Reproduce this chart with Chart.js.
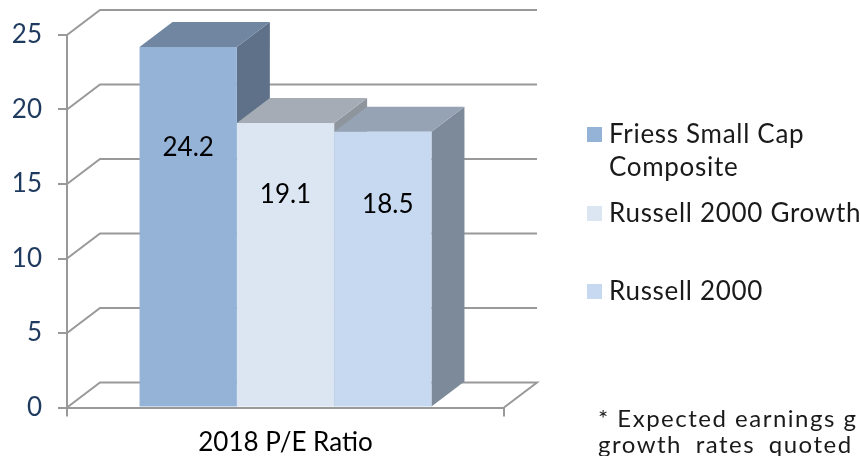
<!DOCTYPE html>
<html>
<head>
<meta charset="utf-8">
<style>html,body{margin:0;padding:0;background:#fff;overflow:hidden}canvas{display:block}</style>
<script src="https://cdn.jsdelivr.net/npm/chart.js@4/dist/chart.umd.min.js"></script>
</head>
<body>
<canvas id="c" width="860" height="456"></canvas>
<script>
const categories = ["2018 P/E Ratio"];
const seriesNames = ["Friess Small Cap Composite", "Russell 2000 Growth", "Russell 2000"];
const friessValues = [24.2];
const growthValues = [19.1];
const russellValues = [18.5];
const yTicks = [0, 5, 10, 15, 20, 25];
const footnoteLines = ["* Expected earnings g", "growth rates quoted"];

const GEO = '"Lato","Open Sans",sans-serif';
const DEPTH_X = 33, DEPTH_Y = -25;
const GRID = '#999999';
const faces = [
  {front:'#95B3D7', top:'#7086A1', side:'#5E7188'},
  {front:'#DCE6F2', top:'#A5ACB5', side:'#8F959D'},
  {front:'#C6D9F1', top:'#95A3B5', side:'#7D8A99'}
];

function poly(ctx, pts, fill){
  ctx.beginPath();
  pts.forEach((p,i)=> i ? ctx.lineTo(p[0],p[1]) : ctx.moveTo(p[0],p[1]));
  ctx.closePath();
  ctx.fillStyle = fill;
  ctx.fill();
}

const box3d = {
  id:'box3d',
  beforeDatasetsDraw(chart){
    const {ctx, chartArea:a, scales:{y}} = chart;
    ctx.save();
    ctx.strokeStyle = GRID; ctx.lineWidth = 2; ctx.lineJoin='miter';
    yTicks.forEach(v=>{
      const py = y.getPixelForValue(v);
      ctx.beginPath();
      ctx.moveTo(a.left, py);
      ctx.lineTo(a.left+DEPTH_X, py+DEPTH_Y);
      ctx.lineTo(a.right+DEPTH_X, py+DEPTH_Y);
      if(v===0){ ctx.lineTo(a.right, py); }
      ctx.stroke();
    });
    chart.data.datasets.forEach((ds,i)=>{
      const el = chart.getDatasetMeta(i).data[0];
      const l = el.x-el.width/2, r = el.x+el.width/2, t = el.y, b = el.base;
      poly(ctx, [[r,t],[r+DEPTH_X,t+DEPTH_Y],[r+DEPTH_X,b+DEPTH_Y],[r,b]], faces[i].side);
      poly(ctx, [[l,t],[l+DEPTH_X,t+DEPTH_Y],[r+DEPTH_X,t+DEPTH_Y],[r,t]], faces[i].top);
    });
    ctx.restore();
  },
  afterDatasetsDraw(chart, args, opts){
    const {ctx} = chart;
    ctx.save();
    ctx.fillStyle = '#000';
    ctx.font = '26px '+GEO;
    ctx.textAlign='center'; ctx.textBaseline='middle';
    chart.data.datasets.forEach((ds,i)=>{
      const el = chart.getDatasetMeta(i).data[0];
      ctx.fillText(ds.data[0].toFixed(1), el.x+opts.dx[i], el.y+opts.dy[i]);
    });
    ctx.restore();
  }
};

const sideLegend = {
  id:'sideLegend',
  afterDraw(chart, args, opts){
    const {ctx} = chart;
    ctx.save();
    ctx.textAlign='left'; ctx.textBaseline='alphabetic';
    ctx.font = opts.font;
    ctx.letterSpacing = '0.7px';
    chart.data.datasets.forEach((ds,i)=>{
      const y = opts.rows[i];
      ctx.fillStyle = ds.backgroundColor;
      ctx.fillRect(opts.boxX, y-opts.boxOff, 15, 15);
      ctx.fillStyle = '#1a1a1a';
      const lines = i===0 ? [ds.label.replace(' Composite',''), 'Composite'] : [ds.label];
      lines.forEach((t,j)=>ctx.fillText(t, opts.textX, y+j*opts.lineH));
    });
    ctx.font = opts.noteFont;
    ctx.letterSpacing = '1.5px';
    footnoteLines.forEach((t,j)=>{
      ctx.wordSpacing = j ? '6px' : '0px';
      ctx.fillText(t, opts.noteX, opts.noteY+j*opts.noteH);
    });
    ctx.restore();
  }
};

new Chart(document.getElementById('c'), {
  type:'bar',
  data:{
    labels:categories,
    datasets:[
      {label:seriesNames[0], data:friessValues, backgroundColor:faces[0].front},
      {label:seriesNames[1], data:growthValues, backgroundColor:faces[1].front},
      {label:seriesNames[2], data:russellValues, backgroundColor:faces[2].front}
    ]
  },
  options:{
    responsive:false, animation:false,
    layout:{padding:{left:0,right:356,top:35,bottom:0}},
    datasets:{bar:{categoryPercentage:0.668, barPercentage:1, borderWidth:0}},
    plugins:{
      legend:{display:false}, tooltip:{enabled:false}, title:{display:false},
      box3d:{dx:[0,0,5], dy:[101,72,73]},
      sideLegend:{font:'26px '+GEO, boxX:587, boxOff:16, textX:609, rows:[143,222,300], lineH:33,
        noteFont:'24px '+GEO, noteX:598, noteY:427, noteH:26}
    },
    scales:{
      x:{
        afterFit(s){ s.height = 48.5; },
        grid:{offset:true, drawOnChartArea:false, drawTicks:true, tickLength:9, color:GRID, lineWidth:2},
        border:{color:GRID, width:2},
        ticks:{color:'#000', font:{family:'Lato', size:26}, padding:11, maxRotation:0}
      },
      y:{
        min:0, max:25,
        afterFit(s){ s.width = 67; },
        afterBuildTicks(s){ s.ticks = yTicks.map(v=>({value:v})); },
        grid:{drawOnChartArea:false, drawTicks:true, tickLength:9, color:GRID, lineWidth:2},
        border:{color:GRID, width:2},
        ticks:{color:'#1F3A5F', font:{family:'Lato', size:26}, padding:16}
      }
    }
  },
  plugins:[box3d, sideLegend]
});
</script>
</body>
</html>
